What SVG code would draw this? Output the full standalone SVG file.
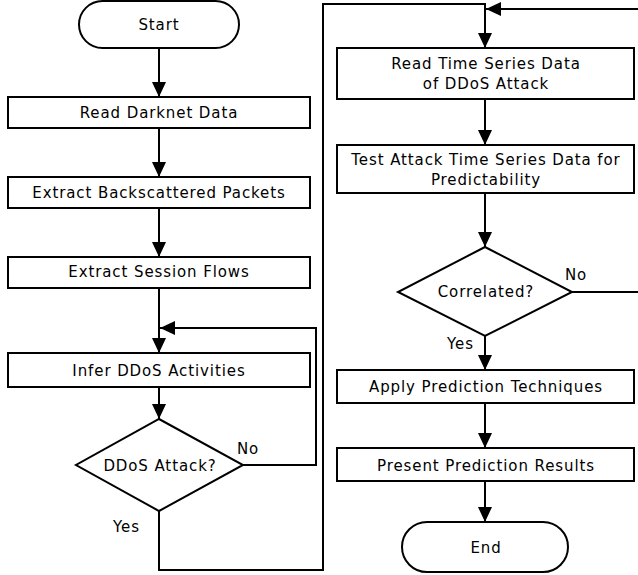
<svg xmlns="http://www.w3.org/2000/svg" width="638" height="575" viewBox="0 0 638 575">
<style>
.s{fill:#fff;stroke:#000;stroke-width:2}
.c{fill:none;stroke:#000;stroke-width:2}
text{font-family:"DejaVu Sans","Liberation Sans",sans-serif;font-size:15px;letter-spacing:0.9px;fill:#000}
.m{text-anchor:middle}
</style>
<defs>
<marker id="ah" markerUnits="userSpaceOnUse" markerWidth="15" markerHeight="14" refX="15" refY="7" orient="auto" viewBox="0 0 15 14">
<path d="M0,0 L15,7 L0,14 z" fill="#000"/>
</marker>
</defs>
<rect width="638" height="575" fill="#fff"/>
<g id="connectors" class="c" marker-end="url(#ah)">
<path class="c" d="M159,48 V97" marker-end="url(#ah)"/>
<path class="c" d="M159,128 V177" marker-end="url(#ah)"/>
<path class="c" d="M159,208 V257" marker-end="url(#ah)"/>
<path class="c" d="M159,288 V353" marker-end="url(#ah)"/>
<path class="c" d="M159,387 V419" marker-end="url(#ah)"/>
<path class="c" d="M243,465 H316 V328 H160" marker-end="url(#ah)"/>
<path class="c" d="M159,511 V570 H323 V4 H485 V48" marker-end="url(#ah)"/>
<path class="c" d="M485,99 V145" marker-end="url(#ah)"/>
<path class="c" d="M485,193 V247" marker-end="url(#ah)"/>
<path class="c" d="M485,336 V370" marker-end="url(#ah)"/>
<path class="c" d="M485,403 V448" marker-end="url(#ah)"/>
<path class="c" d="M485,481 V522" marker-end="url(#ah)"/>
<path class="c" d="M572,292 H641 V9 H486" marker-end="url(#ah)"/>
</g>
<g id="start"><rect class="s" x="79" y="1" width="160" height="47" rx="23.5"/><text class="m" x="159" y="30">Start</text></g>
<g id="read-darknet"><rect class="s" x="8" y="97" width="302" height="31"/><text class="m" x="159" y="118">Read Darknet Data</text></g>
<g id="extract-backscattered"><rect class="s" x="8" y="177" width="302" height="31"/><text class="m" x="159" y="198">Extract Backscattered Packets</text></g>
<g id="extract-session"><rect class="s" x="8" y="257" width="302" height="31"/><text class="m" x="159" y="277">Extract Session Flows</text></g>
<g id="infer"><rect class="s" x="8" y="353" width="302" height="34"/><text class="m" x="159" y="376">Infer DDoS Activities</text></g>
<g id="ddos-attack"><polygon class="s" points="159,419 243,465 159,511 76,465"/><text class="m" x="160" y="471">DDoS Attack?</text></g>
<g id="label-no-1"><text x="237" y="454">No</text></g>
<g id="label-yes-1"><text x="113" y="532">Yes</text></g>
<g id="read-ts"><rect class="s" x="337" y="48" width="297" height="51"/><text class="m" x="486" y="69">Read Time Series Data</text><text class="m" x="486" y="89">of DDoS Attack</text></g>
<g id="test"><rect class="s" x="337" y="145" width="297" height="48"/><text class="m" x="486" y="165">Test Attack Time Series Data for</text><text class="m" x="486" y="185">Predictability</text></g>
<g id="correlated"><polygon class="s" points="485,247 572,292 485,336 398,292"/><text class="m" x="486" y="297">Correlated?</text></g>
<g id="label-no-2"><text x="565" y="280">No</text></g>
<g id="label-yes-2"><text x="447" y="349">Yes</text></g>
<g id="apply"><rect class="s" x="337" y="370" width="297" height="33"/><text class="m" x="486" y="392">Apply Prediction Techniques</text></g>
<g id="present"><rect class="s" x="337" y="448" width="297" height="33"/><text class="m" x="486" y="471">Present Prediction Results</text></g>
<g id="end"><rect class="s" x="402" y="522" width="166" height="50" rx="25"/><text class="m" x="486" y="553">End</text></g>
</svg>
